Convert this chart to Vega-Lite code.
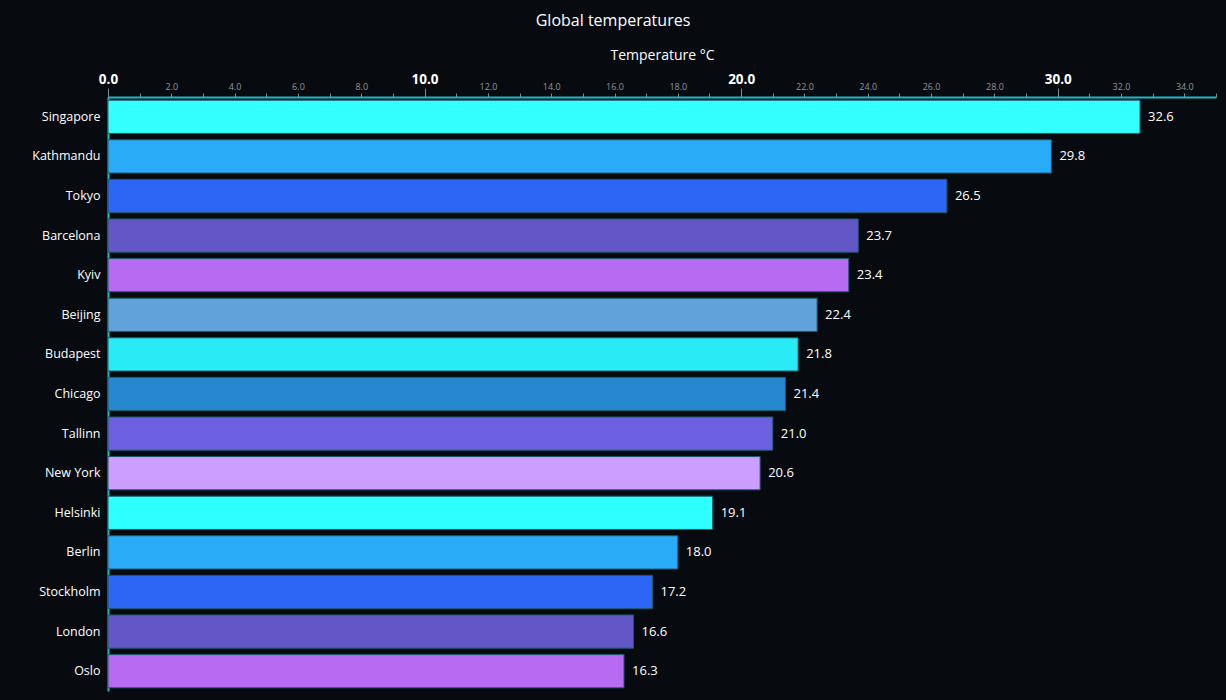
{
  "$schema": "https://vega.github.io/schema/vega-lite/v6.json",
  "width": 1108,
  "height": 594,
  "autosize": {"type": "none"},
  "padding": {"left": 108, "top": 97, "right": 10, "bottom": 9},
  "background": "#070b10",
  "title": {
    "text": "Global temperatures",
    "anchor": "middle",
    "frame": "group",
    "dx": -49,
    "offset": 19,
    "font": "Open Sans",
    "fontSize": 16,
    "fontWeight": "normal",
    "color": "#ffffff"
  },
  "data": {
    "values": [
      {"city": "Singapore", "temp": 32.6},
      {"city": "Kathmandu", "temp": 29.8},
      {"city": "Tokyo", "temp": 26.5},
      {"city": "Barcelona", "temp": 23.7},
      {"city": "Kyiv", "temp": 23.4},
      {"city": "Beijing", "temp": 22.4},
      {"city": "Budapest", "temp": 21.8},
      {"city": "Chicago", "temp": 21.4},
      {"city": "Tallinn", "temp": 21.0},
      {"city": "New York", "temp": 20.6},
      {"city": "Helsinki", "temp": 19.1},
      {"city": "Berlin", "temp": 18.0},
      {"city": "Stockholm", "temp": 17.2},
      {"city": "London", "temp": 16.6},
      {"city": "Oslo", "temp": 16.3}
    ]
  },
  "encoding": {
    "y": {
      "field": "city",
      "type": "nominal",
      "sort": null,
      "scale": {"paddingInner": 0.16, "paddingOuter": 0.08},
      "axis": {
        "title": null,
        "domainColor": "#1fb8c8",
        "domainWidth": 2,
        "ticks": false,
        "labelColor": "#ffffff",
        "labelFont": "Open Sans",
        "labelFontSize": 12.5,
        "labelPadding": 8
      }
    },
    "x": {
      "field": "temp",
      "type": "quantitative",
      "scale": {"domain": [0, 35], "nice": false},
      "axis": {
        "orient": "top",
        "title": "Temperature °C",
        "titleColor": "#ffffff",
        "titleFont": "Open Sans",
        "titleFontSize": 14,
        "titleFontWeight": "normal",
        "titlePadding": 10,
        "grid": false,
        "domainColor": "#1fb8c8",
        "domainWidth": 2,
        "values": [0,1,2,3,4,5,6,7,8,9,10,11,12,13,14,15,16,17,18,19,20,21,22,23,24,25,26,27,28,29,30,31,32,33,34,35],
        "labelExpr": "datum.value % 2 === 0 && datum.value < 35 ? format(datum.value, '.1f') : ''",
        "labelFont": "Open Sans",
        "labelFontSize": {"condition": {"test": "datum.value % 10 === 0", "value": 13.5}, "value": 9},
        "labelFontWeight": {"condition": {"test": "datum.value % 10 === 0", "value": "bold"}, "value": "normal"},
        "labelColor": {"condition": {"test": "datum.value % 10 === 0", "value": "#ffffff"}, "value": "#8c979c"},
        "labelPadding": 2,
        "labelFlush": false,
        "labelOverlap": false,
        "tickColor": "#7f8c92",
        "tickSize": {"condition": {"test": "datum.value % 10 === 0", "value": 9}, "value": 4}
      }
    }
  },
  "layer": [
    {
      "mark": {"type": "bar", "stroke": "#1a5a6a", "strokeWidth": 1, "cornerRadius": 0},
      "encoding": {
        "color": {
          "field": "city",
          "type": "nominal",
          "legend": null,
          "scale": {
            "domain": ["Singapore", "Kathmandu", "Tokyo", "Barcelona", "Kyiv", "Beijing", "Budapest", "Chicago", "Tallinn", "New York", "Helsinki", "Berlin", "Stockholm", "London", "Oslo"],
            "range": ["#33ffff", "#2aabf8", "#2d65f5", "#6357c8", "#b76af2", "#62a2da", "#28ebf5", "#2788cf", "#6d60e0", "#cc9eff", "#2effff", "#2aabf8", "#2d65f5", "#6357c8", "#b76af2"]
          }
        }
      }
    },
    {
      "mark": {"type": "text", "align": "left", "dx": 8, "color": "#ffffff", "font": "Open Sans", "fontSize": 13},
      "encoding": {
        "text": {"field": "temp", "type": "quantitative", "format": ".1f"}
      }
    }
  ],
  "config": {
    "view": {"stroke": null}
  }
}
